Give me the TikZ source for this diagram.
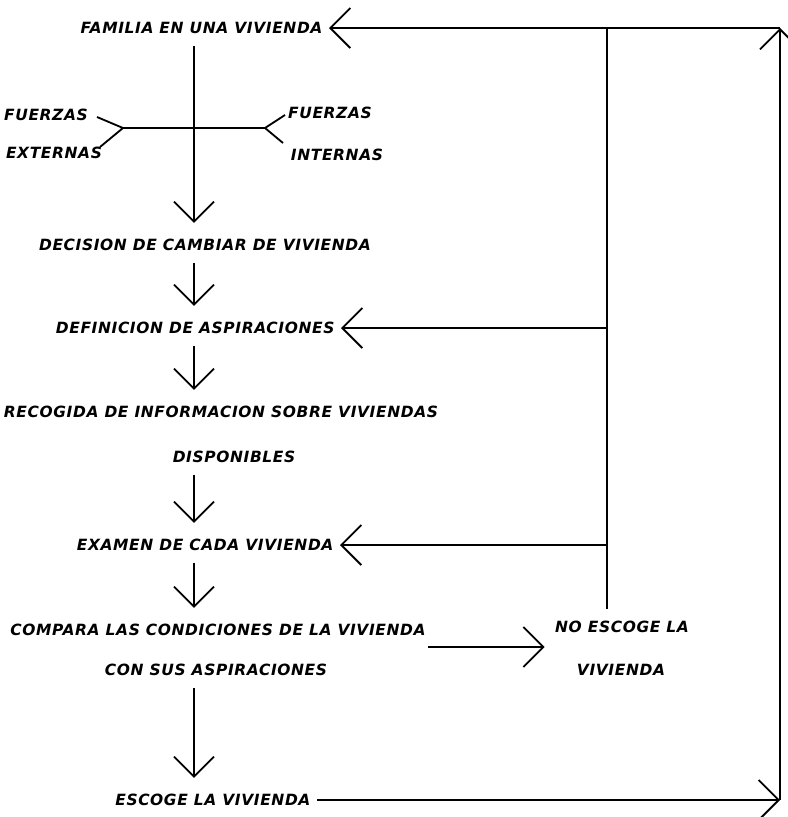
\documentclass[tikz,border=0pt]{standalone}
\usepackage{fontspec}
\usepackage{tikz}
\usetikzlibrary{arrows.meta,positioning,calc}
\newfontfamily\plotfont[LetterSpace=4]{DejaVu Sans}

\tikzset{
    etapa/.style={font=\plotfont\bfseries\itshape\fontsize{11}{13}\selectfont, inner xsep=4, inner ysep=8},
    flecha/.style={-{Straight Barb[length=5mm,width=10mm]}},
}

\begin{document}
\begin{tikzpicture}[x=0.025cm, y=-0.025cm, line width=1.3pt]
    \useasboundingbox (0,0) rectangle (788,817);

    % Etapas
    \node[etapa, anchor=east] (familia) at (329,28) {FAMILIA EN UNA VIVIENDA};
    \node[etapa] (decision) at (205,245) {DECISION DE CAMBIAR DE VIVIENDA};
    \node[etapa, anchor=east] (definicion) at (341,328) {DEFINICION DE ASPIRACIONES};
    \node[etapa] (recogida) at (221,412) {RECOGIDA DE INFORMACION SOBRE VIVIENDAS};
    \node[etapa] (disponibles) at (234,457) {DISPONIBLES};
    \node[etapa, anchor=east] (examen) at (340,545) {EXAMEN DE CADA VIVIENDA};
    \node[etapa] (compara) at (218,630) {COMPARA LAS CONDICIONES DE LA VIVIENDA};
    \node[etapa] (consus) at (216,670) {CON SUS ASPIRACIONES};
    \node[etapa] (noescoge) at (622,627) {NO ESCOGE LA};
    \node[etapa] (novivienda) at (621,670) {VIVIENDA};
    \node[etapa, anchor=east] (escoge) at (317,800) {ESCOGE LA VIVIENDA};

    % Fuerzas
    \node[etapa] (fext) at (46,115) {FUERZAS};
    \node[etapa] (fextb) at (54,153) {EXTERNAS};
    \node[etapa] (fint) at (330,113) {FUERZAS};
    \node[etapa] (fintb) at (337,155) {INTERNAS};

    % Lineas guia
    \coordinate (espina) at (194,0);
    \coordinate (retorno) at (607,0);
    \coordinate (esqsup) at (780,28);
    \coordinate (esqinf) at (780,800);
    \coordinate (fizq) at (123,128);
    \coordinate (fder) at (265,128);
    \coordinate (decide) at (428,647);

    % Secuencia principal
    \foreach \a/\b in {familia/decision, decision/definicion, definicion/recogida,
                       disponibles/examen, examen/compara, consus/escoge} {
        \draw[flecha, shorten >=1mm] (\a.south -| espina) -- (\b.north -| espina);
    }

    % Fuerzas externas e internas
    \draw (fizq) -- (fder);
    \draw (fizq) ++(-26,-11) -- (fizq) -- ++(-23,19);
    \draw (fder) ++(20,-13) -- (fder) -- ++(18,15);

    % Rechazo y vuelta atras
    \draw[flecha, shorten >=1mm] (decide) -- (noescoge.west |- decide);
    \draw (noescoge.north -| retorno) -- (retorno |- familia);
    \draw[flecha] (retorno |- definicion) -- (definicion.east);
    \draw[flecha] (retorno |- examen) -- (examen.east);

    % Ciclo completo
    \draw[flecha] (escoge.east) -- (esqinf);
    \draw[flecha] (esqinf) -- (esqsup);
    \draw[flecha] (esqsup) -- (familia.east);
\end{tikzpicture}
\end{document}
